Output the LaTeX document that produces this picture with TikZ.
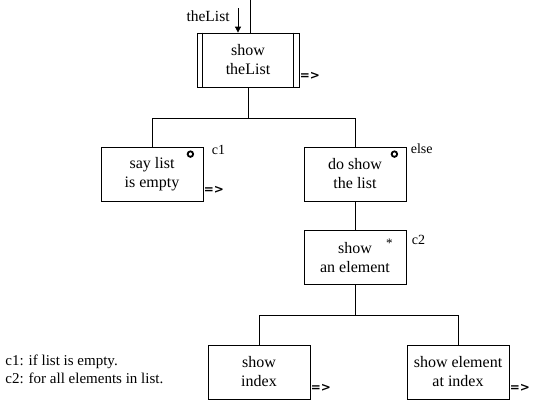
\documentclass[tikz,border=0pt]{standalone}
\usepackage{fontspec}
\setmainfont{Liberation Serif}
\newfontfamily\arrowfont{DejaVu Sans}
\usetikzlibrary{arrows.meta}

\tikzset{
  jbox/.style={draw, minimum width=102pt, minimum height=54pt, inner sep=0pt,
    align=center, font=\fontsize{16}{19}\selectfont},
  cond/.style={anchor=west, inner sep=0pt, font=\fontsize{14}{15}\selectfont},
  more/.style={anchor=west, inner sep=0pt, font=\arrowfont\fontsize{12}{12}\selectfont\bfseries},
  sel/.style={circle, draw, line width=1.8pt, minimum size=5.5pt, inner sep=0pt},
}

\begin{document}
\begin{tikzpicture}[x=1pt,y=-1pt,line width=0.8pt]
  \useasboundingbox (0,0) rectangle (536,418);
  % boxes
  \node[jbox] (show) at (248,60) {show\\theList};
  \draw ([xshift=6pt]show.north west) -- ([xshift=6pt]show.south west);
  \draw ([xshift=-6pt]show.north east) -- ([xshift=-6pt]show.south east);
  \node[jbox] (empty) at (152,174) {say list\\is empty};
  \node[jbox] (doshow) at (355,174) {do show\\the list};
  \node[jbox] (elem) at (355,257.5) {show\\an element};
  \node[jbox] (index) at (259,372) {show\\index};
  \node[jbox] (atindex) at (458,372) {show element\\at index};
  % input
  \coordinate (in) at (250,0);
  \draw (in) -- (in |- show.north);
  \coordinate (argtop) at (238,8);
  \draw[-{Triangle[length=6pt,width=6pt]}] (argtop) -- (argtop |- show.north);
  \node[anchor=east, inner sep=0pt, font=\fontsize{15.5}{17}\selectfont] (arg) at (230,16) {theList};
  % tree
  \path (show.south) ++(0,31) coordinate (b1);
  \draw (show.south) -- (b1);
  \draw (empty.north) |- (b1) -| (doshow.north);
  \draw (doshow) -- (elem);
  \path (elem.south) ++(0,30) coordinate (b2);
  \draw (elem.south) -- (b2);
  \draw (index.north) |- (b2) -| (atindex.north);
  % selection marks and conditions
  \node[sel] at ([xshift=-13pt,yshift=-7.5pt]empty.north east) {};
  \node[sel] at ([xshift=-12pt,yshift=-7.5pt]doshow.north east) {};
  \node[inner sep=0pt, font=\fontsize{13}{13}\selectfont] at ([xshift=-17pt,yshift=-13pt]elem.north east) {*};
  \node[cond] (c1) at ([xshift=8pt,yshift=-3pt]empty.north east) {c1};
  \node[cond] (celse) at ([xshift=4pt,yshift=-2pt]doshow.north east) {else};
  \node[cond] (c2) at ([xshift=5pt,yshift=-10pt]elem.north east) {c2};
  % continuations
  \node[more] at ([yshift=11pt]show.south east) {=>};
  \node[more] at ([yshift=11pt]empty.south east) {=>};
  \node[more] at ([yshift=11pt]index.south east) {=>};
  \node[more] at ([yshift=11pt]atindex.south east) {=>};
  % legend
  \node[anchor=north west, inner sep=0pt, align=left, font=\fontsize{15}{18}\selectfont] (legend) at (5,355)
    {c1: if list is empty.\\c2: for all elements in list.};
\end{tikzpicture}
\end{document}
